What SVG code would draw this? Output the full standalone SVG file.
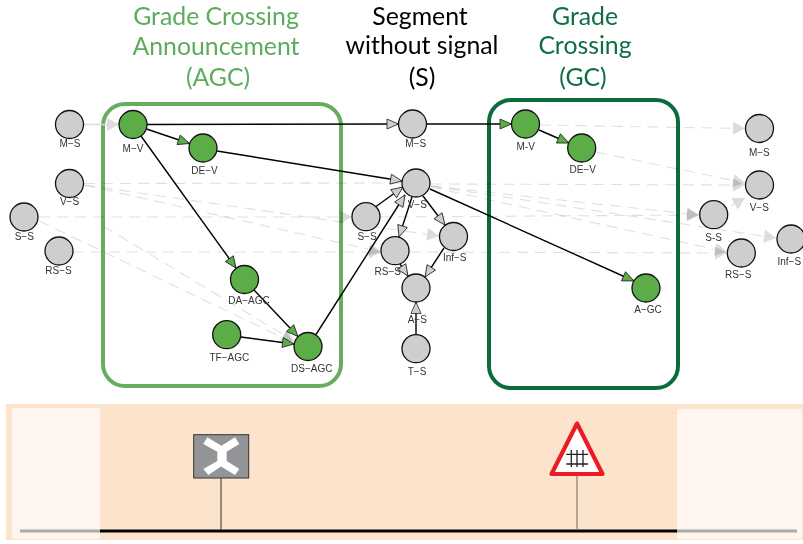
<svg xmlns="http://www.w3.org/2000/svg" width="803" height="544" viewBox="0 0 803 544">
<style>
.t{font-family:Lato,"Open Sans",sans-serif;font-size:24.8px;text-anchor:middle}
.l{font-family:"Liberation Sans",Arial,sans-serif;font-size:10px;text-anchor:middle;fill:#333}
.n{stroke:#111;stroke-width:1.3}
.g{fill:#cdced0}.v{fill:#5cad47}
.b{stroke:#000;stroke-width:1.4;fill:none}
.bg{marker-end:url(#hg)}.bv{marker-end:url(#hv)}
.d{stroke:#e0e0e0;stroke-width:1.1;fill:none;stroke-dasharray:11 7;mix-blend-mode:multiply}
.da{marker-end:url(#hl)}
</style>
<defs>
<marker id="hg" markerUnits="userSpaceOnUse" markerWidth="14" markerHeight="12" refX="12" refY="5.500" orient="auto" overflow="visible"><path d="M0.500 0.500L12 5.500L0.500 10.500Z" fill="#cdced0" stroke="#222" stroke-width=".8"/></marker>
<marker id="hv" markerUnits="userSpaceOnUse" markerWidth="14" markerHeight="12" refX="12" refY="5.500" orient="auto" overflow="visible"><path d="M0.500 0.500L12 5.500L0.500 10.500Z" fill="#5cad47" stroke="#222" stroke-width=".8"/></marker>
<marker id="hl" markerUnits="userSpaceOnUse" markerWidth="14" markerHeight="14" refX="12" refY="6.500" orient="auto" overflow="visible"><path d="M0 0L12 6.500L0 13Z" fill="#dcdcdc"/></marker>
</defs>
<rect width="803" height="544" fill="#fff"/>
<g id="titles">
<text class="t" fill="#5dab5f"><tspan x="216" y="24.500">Grade Crossing</tspan><tspan x="216" y="55">Announcement</tspan><tspan x="218" y="86">(AGC)</tspan></text>
<text class="t" fill="#000"><tspan x="420" y="24.500">Segment</tspan><tspan x="422" y="54">without signal</tspan><tspan x="422" y="86">(S)</tspan></text>
<text class="t" fill="#0e6e42"><tspan x="585" y="24.500">Grade</tspan><tspan x="585" y="54">Crossing</tspan><tspan x="583" y="86">(GC)</tspan></text>
</g>
<g id="track">
<rect x="6" y="404" width="797" height="136" fill="#fce3cb"/>
<line x1="20" y1="531" x2="797" y2="531" stroke="#000" stroke-width="3"/>
<rect x="12" y="408" width="88" height="131" fill="#fff" fill-opacity=".67"/>
<rect x="677" y="409" width="125" height="130" fill="#fff" fill-opacity=".67"/>
<line x1="221" y1="478" x2="221" y2="530" stroke="#5a4a40" stroke-width="1.2"/>
<rect x="193.700" y="434.700" width="55" height="43.300" fill="#929497" stroke="#333" stroke-width="1"/>
<polygon points="207.300,437.300 221.500,445.700 235,437.300 239.300,444 226.700,451.700 226.700,461 239.300,469 235,475 221,466.500 208.300,475 203.300,469 217.300,461 217.300,451.700 203.300,444" fill="#fff"/>
<line x1="577" y1="476" x2="577" y2="530" stroke="#8a7c6c" stroke-width="1.2"/>
<polygon points="577,423.500 551.500,474 602.500,474" fill="#fff" stroke="#ed1c24" stroke-width="4.200" stroke-linejoin="round"/>
<path d="M571.300 450V467M577 450V467M583 450V467M566.300 454.300H588M566.300 464H588" stroke="#222" stroke-width="1.300" fill="none"/>
</g>
<g id="agc-box"><rect x="103" y="104" width="238" height="282" rx="22" fill="none" stroke="#66ad5e" stroke-width="4"/></g>
<g id="gc-box"><rect x="489" y="100" width="189" height="288" rx="22" fill="none" stroke="#0b6b3a" stroke-width="4"/></g>
<g id="connectors">
<line x1="84" y1="124.500" x2="119" y2="124.500" stroke="#dcdcdc" stroke-width="1.300" class="da"/>
<line class="d" x1="84" y1="183.500" x2="402" y2="183"/>
<line class="d da" x1="84" y1="185" x2="439" y2="236"/>
<line class="d da" x1="84" y1="185" x2="381" y2="252"/>
<line class="d da" x1="39" y1="217" x2="352" y2="217"/>
<line class="d da" x1="73" y1="252" x2="381" y2="252"/>
<line class="d da" x1="39" y1="221" x2="294" y2="343"/>
<line class="d da" x1="103" y1="226" x2="294" y2="341"/>
<line class="d da" x1="540" y1="125" x2="745" y2="128.500"/>
<line class="d da" x1="596" y1="152" x2="745" y2="183"/>
<line class="d da" x1="431" y1="184" x2="745" y2="185"/>
<line class="d da" x1="431" y1="186" x2="699" y2="215"/>
<line class="d da" x1="431" y1="186" x2="776" y2="238"/>
<line class="d da" x1="431" y1="187" x2="727" y2="252"/>
<line class="d da" x1="380" y1="217" x2="699" y2="215"/>
<line class="d da" x1="409" y1="252" x2="727" y2="253"/>
<line stroke="#dcdcdc" stroke-width="1.300" class="da" x1="731" y1="206" x2="745" y2="198"/>
<line class="b bg" x1="147" y1="124.500" x2="398.500" y2="124"/>
<line class="b bv" x1="427" y1="124" x2="511.500" y2="124"/>
<line class="b bv" x1="146.500" y1="129" x2="189.500" y2="143.500"/>
<line class="b bv" x1="141" y1="136" x2="236" y2="268"/>
<line class="b bg" x1="217" y1="151" x2="402" y2="181"/>
<line class="b bv" x1="254" y1="290" x2="298" y2="336.500"/>
<line class="b bv" x1="241" y1="337" x2="294" y2="344"/>
<line class="b bg" x1="316" y1="334.500" x2="405" y2="195"/>
<line class="b bg" x1="376" y1="206.500" x2="403" y2="187"/>
<line class="b bg" x1="412" y1="197" x2="399" y2="237"/>
<line class="b bg" x1="423" y1="196" x2="445" y2="225"/>
<line class="b bg" x1="400" y1="264" x2="408" y2="276"/>
<line class="b bg" x1="444" y1="248" x2="425" y2="277"/>
<line class="b bg" x1="416" y1="335" x2="416" y2="302"/>
<line class="b bv" x1="539" y1="130" x2="569" y2="143"/>
<line class="b bv" x1="430" y1="189" x2="634" y2="281"/>
</g>
<g id="M-S-1"><circle class="n g" cx="69.500" cy="124.500" r="14"/><text class="l" x="70" y="146.500">M−S</text></g>
<g id="M-V-1"><circle class="n v" cx="133" cy="124.500" r="14"/><text class="l" x="133" y="152">M−V</text></g>
<g id="DE-V-1"><circle class="n v" cx="203" cy="148" r="14"/><text class="l" x="204.500" y="174">DE−V</text></g>
<g id="V-S-1"><circle class="n g" cx="69.500" cy="183.500" r="14"/><text class="l" x="69.500" y="205">V−S</text></g>
<g id="S-S-1"><circle class="n g" cx="24" cy="217" r="14"/><text class="l" x="24.300" y="240">S−S</text></g>
<g id="RS-S-1"><circle class="n g" cx="59" cy="251" r="14"/><text class="l" x="58.500" y="274">RS−S</text></g>
<g id="DA-AGC"><circle class="n v" cx="244.500" cy="279.500" r="14"/><text class="l" x="249" y="303.500">DA−AGC</text></g>
<g id="TF-AGC"><circle class="n v" cx="226.700" cy="334.700" r="14"/><text class="l" x="229.300" y="360.700">TF−AGC</text></g>
<g id="DS-AGC"><circle class="n v" cx="308" cy="346.500" r="14"/><text class="l" x="311.700" y="371.700">DS−AGC</text></g>
<g id="M-S-2"><circle class="n g" cx="412.500" cy="124" r="14"/><text class="l" x="415.700" y="146.700">M−S</text></g>
<g id="V-S-2"><circle class="n g" cx="416" cy="183" r="14"/><text class="l" x="417.300" y="208">V−S</text></g>
<g id="S-S-2"><circle class="n g" cx="366" cy="216.700" r="14"/><text class="l" x="367" y="240">S−S</text></g>
<g id="RS-S-2"><circle class="n g" cx="395" cy="250.700" r="14"/><text class="l" x="387.700" y="275">RS−S</text></g>
<g id="Inf-S-2"><circle class="n g" cx="453.500" cy="236.500" r="14"/><text class="l" x="454.700" y="260.700">Inf−S</text></g>
<g id="A-S"><circle class="n g" cx="416" cy="288" r="14"/><text class="l" x="417.300" y="323">A−S</text></g>
<g id="T-S"><circle class="n g" cx="416" cy="348.700" r="14"/><text class="l" x="417" y="375">T−S</text></g>
<g id="M-V-2"><circle class="n v" cx="525.500" cy="124" r="14"/><text class="l" x="525.700" y="150">M-V</text></g>
<g id="DE-V-2"><circle class="n v" cx="581.700" cy="148" r="14"/><text class="l" x="582.700" y="173.300">DE−V</text></g>
<g id="A-GC"><circle class="n v" cx="646" cy="288" r="14"/><text class="l" x="648" y="313">A−GC</text></g>
<g id="M-S-3"><circle class="n g" cx="759.500" cy="128.500" r="14"/><text class="l" x="759.300" y="155.700">M−S</text></g>
<g id="V-S-3"><circle class="n g" cx="759.500" cy="185" r="14"/><text class="l" x="759.300" y="210.700">V−S</text></g>
<g id="S-S-3"><circle class="n g" cx="713.700" cy="214.700" r="14"/><text class="l" x="713.700" y="241">S-S</text></g>
<g id="RS-S-3"><circle class="n g" cx="741.300" cy="253" r="14"/><text class="l" x="738.300" y="278.300">RS−S</text></g>
<g id="Inf-S-3"><circle class="n g" cx="791" cy="239" r="14"/><text class="l" x="789.300" y="265">Inf−S</text></g>
</svg>
